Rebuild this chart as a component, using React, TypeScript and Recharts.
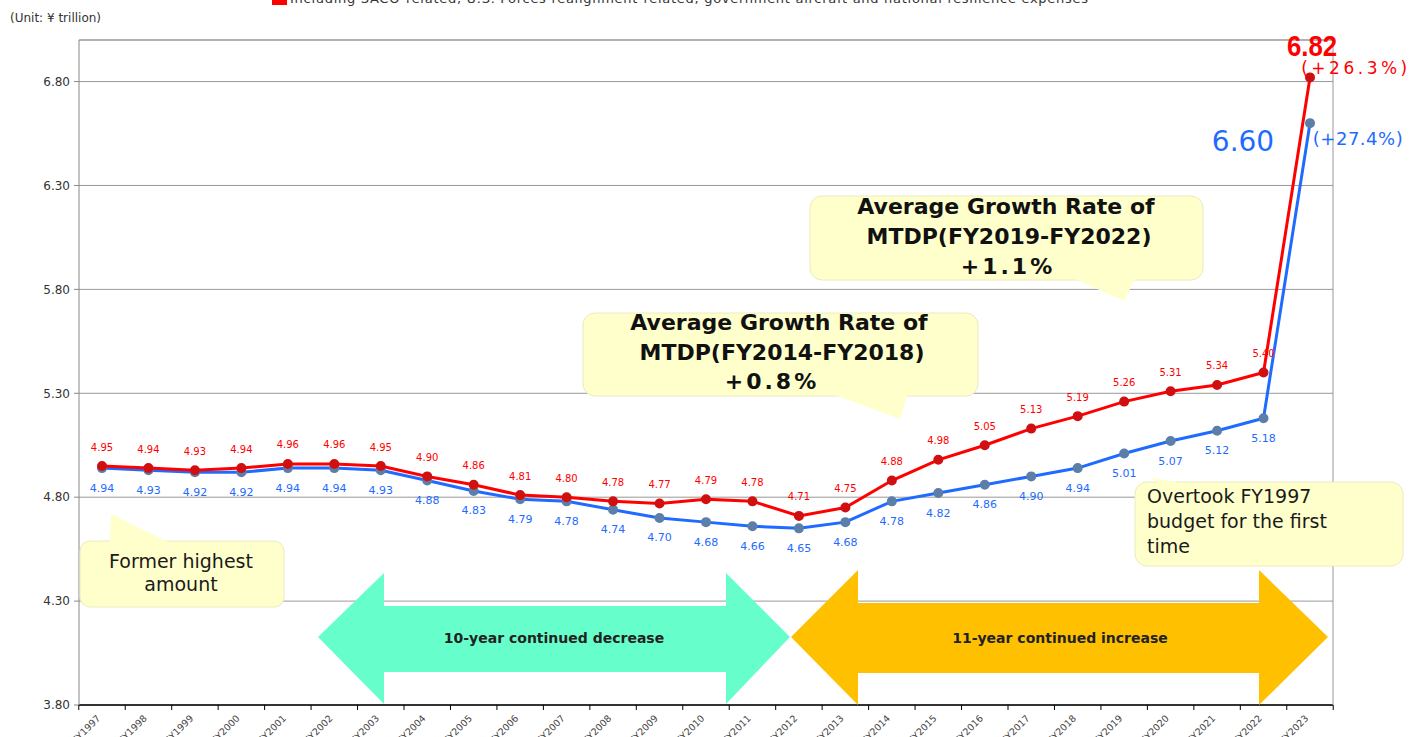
import React from "react";
import {
  LineChart,
  Line,
  XAxis,
  YAxis,
  CartesianGrid,
  ReferenceLine,
  LabelList,
} from "recharts";

// categories
const fiscalYears = [
  "FY1997", "FY1998", "FY1999", "FY2000", "FY2001", "FY2002", "FY2003",
  "FY2004", "FY2005", "FY2006", "FY2007", "FY2008", "FY2009", "FY2010",
  "FY2011", "FY2012", "FY2013", "FY2014", "FY2015", "FY2016", "FY2017",
  "FY2018", "FY2019", "FY2020", "FY2021", "FY2022", "FY2023",
];

// incl. SACO / U.S. forces realignment / gov aircraft / national resilience
const budgetWithSaco = [
  4.95, 4.94, 4.93, 4.94, 4.96, 4.96, 4.95, 4.9, 4.86, 4.81, 4.8, 4.78, 4.77,
  4.79, 4.78, 4.71, 4.75, 4.88, 4.98, 5.05, 5.13, 5.19, 5.26, 5.31, 5.34, 5.4,
  6.82,
];

// excl. those expenses
const budgetBase = [
  4.94, 4.93, 4.92, 4.92, 4.94, 4.94, 4.93, 4.88, 4.83, 4.79, 4.78, 4.74, 4.7,
  4.68, 4.66, 4.65, 4.68, 4.78, 4.82, 4.86, 4.9, 4.94, 5.01, 5.07, 5.12, 5.18,
  6.6,
];

const yTicks = [3.8, 4.3, 4.8, 5.3, 5.8, 6.3, 6.8];
const yDomain: [number, number] = [3.8, 7.0];
const growthWithSaco = "(+26.3%)";
const growthBase = "(+27.4%)";

const data = fiscalYears.map((fy, i) => ({
  fy,
  withSaco: budgetWithSaco[i],
  base: budgetBase[i],
}));

const FONT = "'DejaVu Sans', Verdana, sans-serif";
const RED = "#FF0000";
const BLUE = "#1F6BFF";
const LAST = fiscalYears.length - 1;
// half the distance between two categories (plot 1254px wide, 23px padding each side)
const HALF_STEP = (1254 - 46) / LAST / 2;

const XTick = (props: any) => {
  const { x, y, payload, index } = props;
  return (
    <g>
      <line x1={x - HALF_STEP} x2={x - HALF_STEP} y1={y - 8} y2={y - 3} stroke="#000" />
      {index === LAST && (
        <line x1={x + HALF_STEP} x2={x + HALF_STEP} y1={y - 8} y2={y - 3} stroke="#000" />
      )}
      <text
        transform={`translate(${x - 1},${y + 6}) rotate(-45)`}
        textAnchor="end"
        fontSize={9.5}
        fill="#444"
      >
        {payload.value}
      </text>
    </g>
  );
};

const renderRedLabel = (props: any) => {
  const { x, y, value, index } = props;
  if (index === LAST) {
    return (
      <g key={`r${index}`}>
        <text
          transform={`translate(${x + 2},${y - 32}) scale(0.86,1)`}
          textAnchor="middle"
          dominantBaseline="central"
          fill={RED}
          fontSize={30}
          fontWeight="bold"
          fontFamily="'Liberation Sans', Arial, sans-serif"
        >
          {Number(value).toFixed(2)}
        </text>
        <text
          x={x + 46}
          y={y - 9}
          textAnchor="middle"
          dominantBaseline="central"
          fill={RED}
          fontSize={17}
          letterSpacing={3.5}
        >
          {growthWithSaco}
        </text>
      </g>
    );
  }
  return (
    <text
      key={`r${index}`}
      x={x}
      y={y - 19}
      textAnchor="middle"
      dominantBaseline="central"
      fill={RED}
      fontSize={10}
    >
      {Number(value).toFixed(2)}
    </text>
  );
};

const renderBlueLabel = (props: any) => {
  const { x, y, value, index } = props;
  if (index === LAST) {
    return (
      <g key={`b${index}`}>
        <text
          x={x - 67}
          y={y + 18}
          textAnchor="middle"
          dominantBaseline="central"
          fill={BLUE}
          fontSize={28}
        >
          {Number(value).toFixed(2)}
        </text>
        <text
          x={x + 48}
          y={y + 15}
          textAnchor="middle"
          dominantBaseline="central"
          fill={BLUE}
          fontSize={18}
          letterSpacing={0.5}
        >
          {growthBase}
        </text>
      </g>
    );
  }
  return (
    <text
      key={`b${index}`}
      x={x}
      y={y + 20}
      textAnchor="middle"
      dominantBaseline="central"
      fill={BLUE}
      fontSize={11}
    >
      {Number(value).toFixed(2)}
    </text>
  );
};

const calloutFill = "#FFFFCC";
const calloutStroke = "#EAEAC0";

function Overlay() {
  return (
    <svg
      width={1417}
      height={737}
      style={{ position: "absolute", left: 0, top: 0, pointerEvents: "none", fontFamily: FONT }}
    >
      {/* legend (cut off at the top) */}
      <rect x={272} y={-6} width={15} height={11} fill={RED} />
      <text x={290} y={3} fontSize={13} fill="#333" textLength={798}>
        Including SACO-related, U.S. Forces realignment-related, government aircraft and national resilience expenses
      </text>
      <text x={10} y={22} fontSize={12} fill="#333">
        (Unit: ¥ trillion)
      </text>

      {/* trend arrows */}
      <polygon
        points="318,637 384,573 384,606 726,606 726,573 790,637 726,704 726,672 384,672 384,704"
        fill="#66FFCC"
      />
      <text x={554} y={638} textAnchor="middle" dominantBaseline="central" fontSize={14} fontWeight="bold" fill="#222">
        10-year continued decrease
      </text>
      <polygon
        points="791,637 858,570 858,603 1259,603 1259,570 1328,637 1259,705 1259,673 858,673 858,705"
        fill="#FFC000"
      />
      <text x={1060} y={638} textAnchor="middle" dominantBaseline="central" fontSize={14} fontWeight="bold" fill="#222">
        11-year continued increase
      </text>

      {/* MTDP FY2014-FY2018 */}
      <rect x={583} y={313} width={395} height={83} rx={12} fill={calloutFill} stroke={calloutStroke} />
      <polygon points="835,395 907,395 900,419" fill={calloutFill} />
      <g fontSize={22} fontWeight="bold" fill="#111" textAnchor="middle" dominantBaseline="central">
        <text x={779} y={322}>Average Growth Rate of</text>
        <text x={782} y={352}>MTDP(FY2014-FY2018)</text>
        <text x={772} y={381} letterSpacing={3}>+0.8%</text>
      </g>

      {/* MTDP FY2019-FY2022 */}
      <rect x={810} y={196} width={393} height={84} rx={12} fill={calloutFill} stroke={calloutStroke} />
      <polygon points="1075,279 1135,279 1124,301" fill={calloutFill} />
      <g fontSize={22} fontWeight="bold" fill="#111" textAnchor="middle" dominantBaseline="central">
        <text x={1006} y={206}>Average Growth Rate of</text>
        <text x={1009} y={236}>MTDP(FY2019-FY2022)</text>
        <text x={1008} y={266} letterSpacing={3}>+1.1%</text>
      </g>

      {/* former highest */}
      <rect x={80} y={541} width={204} height={66} rx={10} fill={calloutFill} stroke={calloutStroke} />
      <polygon points="110,543 111,514 170,543" fill={calloutFill} />
      <g fontSize={19} fill="#1a1a1a" textAnchor="middle" dominantBaseline="central">
        <text x={181} y={561}>Former highest</text>
        <text x={181} y={584}>amount</text>
      </g>

      {/* overtook */}
      <rect x={1135} y={482} width={268} height={84} rx={12} fill={calloutFill} stroke={calloutStroke} />
      <polygon points="1150,477 1185,484 1160,484" fill={calloutFill} />
      <g fontSize={19} fill="#1a1a1a" dominantBaseline="central">
        <text x={1147} y={496}>Overtook FY1997</text>
        <text x={1147} y={521}>budget for the first</text>
        <text x={1147} y={546}>time</text>
      </g>
    </svg>
  );
}

export default function App() {
  return (
    <div
      style={{
        position: "absolute",
        left: 0,
        top: 0,
        width: 1417,
        height: 737,
        background: "#fff",
        fontFamily: FONT,
        overflow: "hidden",
      }}
    >
      <LineChart
        width={1417}
        height={737}
        data={data}
        margin={{ top: 40, right: 83, bottom: 0, left: 0 }}
      >
        <CartesianGrid vertical={false} stroke="#999" yAxisId="left" />
        <XAxis
          dataKey="fy"
          height={32}
          interval={0}
          padding={{ left: 23, right: 23 }}
          tickLine={false}
          axisLine={{ stroke: "#000", strokeWidth: 1.5 }}
          tick={(p: any) => <XTick {...p} />}
        />
        <YAxis
          yAxisId="left"
          width={79}
          domain={yDomain}
          ticks={yTicks}
          interval={0}
          tickFormatter={(v: number) => v.toFixed(2)}
          axisLine={{ stroke: "#888" }}
          tickLine={{ stroke: "#888" }}
          tickSize={5}
          tickMargin={4}
          tick={{ fontSize: 12, fill: "#333" }}
        />
        {/* plain right-hand frame line */}
        <YAxis
          yAxisId="frame"
          orientation="right"
          width={1}
          domain={yDomain}
          tick={false}
          tickLine={false}
          axisLine={{ stroke: "#999" }}
        />
        <ReferenceLine yAxisId="left" y={7.0} stroke="#999" />
        <Line
          yAxisId="left"
          type="linear"
          dataKey="base"
          stroke={BLUE}
          strokeWidth={3}
          dot={{ r: 3.5, fill: "#5B7FA8", stroke: "#5B7FA8" }}
          isAnimationActive={false}
        >
          <LabelList dataKey="base" content={renderBlueLabel} />
        </Line>
        <Line
          yAxisId="left"
          type="linear"
          dataKey="withSaco"
          stroke={RED}
          strokeWidth={3}
          dot={{ r: 3.5, fill: "#D01010", stroke: "#D01010" }}
          isAnimationActive={false}
        >
          <LabelList dataKey="withSaco" content={renderRedLabel} />
        </Line>
      </LineChart>
      <Overlay />
    </div>
  );
}
